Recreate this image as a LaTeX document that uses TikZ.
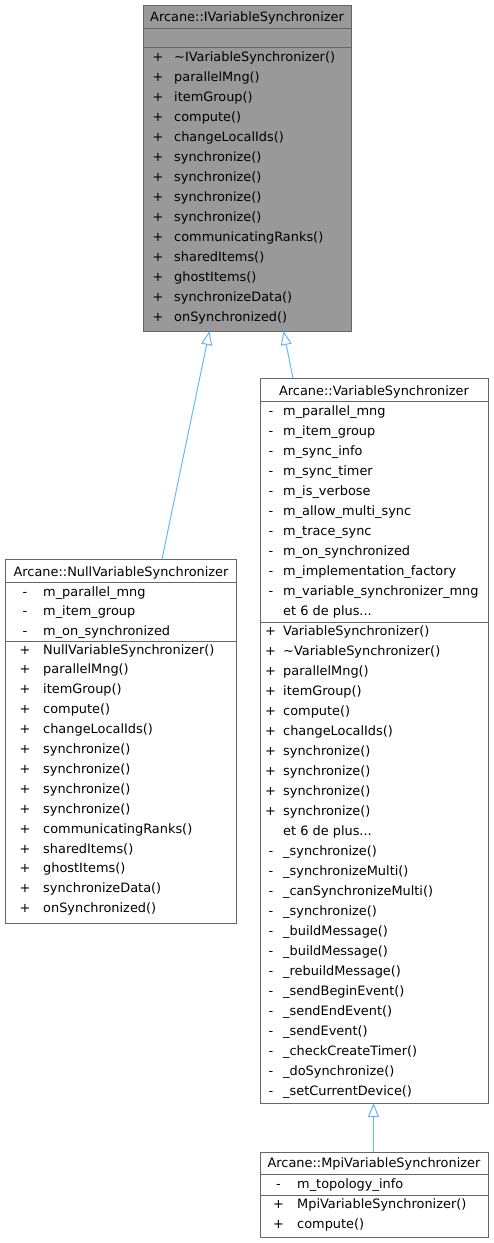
\documentclass[tikz,border=0pt]{standalone}
\usepackage{fontspec}
\setmainfont{DejaVu Sans}
\usetikzlibrary{arrows.meta}
\definecolor{edgeblue}{HTML}{63B8FF}
\definecolor{boxline}{HTML}{666666}
\definecolor{hlfill}{HTML}{999999}
\tikzset{
  cls/.style={draw=boxline, line width=1pt, fill=white, inner sep=0pt, outer sep=0pt, anchor=north west},
  hl/.style={cls, fill=hlfill},
  txt/.style={anchor=base west, inner sep=0pt, font=\fontsize{12.9}{15}\selectfont},
  vis/.style={anchor=base, inner sep=0pt, font=\fontsize{12.9}{15}\selectfont},
  ttl/.style={anchor=base, inner sep=0pt, font=\fontsize{12.9}{15}\selectfont},
  sepline/.style={draw=boxline, line width=1pt},
  inh/.style={draw=edgeblue, line width=1pt, -{Triangle[open, length=14pt, width=11pt, fill=white]}}
}
\begin{document}
\begin{tikzpicture}[x=1pt, y=-1pt]
\useasboundingbox (0,0) rectangle (493,1243);

% ---------- IVariableSynchronizer ----------
\node[hl, minimum width=208pt, minimum height=326pt] (iface) at (143,5) {};
\draw[sepline] (143,28) -- (351,28);
\draw[sepline] (143,47) -- (351,47);
\node[ttl] (ifacet) at (247,21.5) {Arcane::IVariableSynchronizer};
\foreach \t [count=\i from 0] in {\textasciitilde IVariableSynchronizer(), parallelMng(), itemGroup(), compute(), changeLocalIds(), synchronize(), synchronize(), synchronize(), synchronize(), communicatingRanks(), sharedItems(), ghostItems(), synchronizeData(), onSynchronized()}{
  \node[vis] (ifv\i) at (158,{61.5+20*\i}) {+};
  \node[txt] (ifm\i) at (174,{61.5+20*\i}) {\t};
}

% ---------- NullVariableSynchronizer ----------
\node[cls, minimum width=231pt, minimum height=364pt] (null) at (5,559) {};
\draw[sepline] (5,582.5) -- (236,582.5);
\draw[sepline] (5,641) -- (236,641);
\node[ttl] (nullt) at (121,576) {Arcane::NullVariableSynchronizer};
\foreach \t [count=\i from 0] in {m\_parallel\_mng, m\_item\_group, m\_on\_synchronized}{
  \node[vis] (nav\i) at (25,{596+19.6*\i}) {-};
  \node[txt] (naa\i) at (43,{596+19.6*\i}) {\t};
}
\foreach \t [count=\i from 0] in {NullVariableSynchronizer(), parallelMng(), itemGroup(), compute(), changeLocalIds(), synchronize(), synchronize(), synchronize(), synchronize(), communicatingRanks(), sharedItems(), ghostItems(), synchronizeData(), onSynchronized()}{
  \node[vis] (nmv\i) at (25,{654+19.9*\i}) {+};
  \node[txt] (nmm\i) at (43,{654+19.9*\i}) {\t};
}

% ---------- VariableSynchronizer ----------
\node[cls, minimum width=228pt, minimum height=725pt] (var) at (260,378) {};
\draw[sepline] (260,401.5) -- (488,401.5);
\draw[sepline] (260,622.5) -- (488,622.5);
\node[ttl] (vart) at (374,395) {Arcane::VariableSynchronizer};
\foreach \t [count=\i from 0] in {m\_parallel\_mng, m\_item\_group, m\_sync\_info, m\_sync\_timer, m\_is\_verbose, m\_allow\_multi\_sync, m\_trace\_sync, m\_on\_synchronized, m\_implementation\_factory, m\_variable\_synchronizer\_mng}{
  \node[vis] (vav\i) at (271,{415.5+20*\i}) {-};
  \node[txt] (vaa\i) at (283,{415.5+20*\i}) {\t};
}
\node[txt] (vamore) at (283,615.5) {et 6 de plus...};
\foreach \t [count=\i from 0] in {VariableSynchronizer(), \textasciitilde VariableSynchronizer(), parallelMng(), itemGroup(), compute(), changeLocalIds(), synchronize(), synchronize(), synchronize(), synchronize()}{
  \node[vis] (vmv\i) at (270.5,{635.5+20*\i}) {+};
  \node[txt] (vmm\i) at (283,{635.5+20*\i}) {\t};
}
\node[txt] (vmmore) at (283,835.5) {et 6 de plus...};
\foreach \t [count=\i from 0] in {\_synchronize(), \_synchronizeMulti(), \_canSynchronizeMulti(), \_synchronize(), \_buildMessage(), \_buildMessage(), \_rebuildMessage(), \_sendBeginEvent(), \_sendEndEvent(), \_sendEvent(), \_checkCreateTimer(), \_doSynchronize(), \_setCurrentDevice()}{
  \node[vis] (vpv\i) at (271,{855.5+20*\i}) {-};
  \node[txt] (vpm\i) at (283,{855.5+20*\i}) {\t};
}

% ---------- MpiVariableSynchronizer ----------
\node[cls, minimum width=228pt, minimum height=85pt] (mpi) at (260,1152) {};
\draw[sepline] (260,1174) -- (488,1174);
\draw[sepline] (260,1195) -- (488,1195);
\node[ttl] (mpit) at (374,1167.5) {Arcane::MpiVariableSynchronizer};
\node[vis] (mav0) at (278.5,1188.5) {-};
\node[txt] (maa0) at (297,1188.5) {m\_topology\_info};
\node[vis] (mmv0) at (278.5,1208.5) {+};
\node[txt] (mmm0) at (297,1208.5) {MpiVariableSynchronizer()};
\node[vis] (mmv1) at (278.5,1228.5) {+};
\node[txt] (mmm1) at (297,1228.5) {compute()};

% ---------- inheritance edges ----------
\coordinate (nullstart) at (162,559);
\coordinate (ifaceL) at (209.5,331);
\coordinate (varstart) at (293,378);
\coordinate (ifaceR) at (283.5,331);
\coordinate (mpistart) at (373.5,1152);
\coordinate (varbot) at (373.5,1103);
\draw[inh] (nullstart) -- (ifaceL);
\draw[inh] (varstart) -- (ifaceR);
\draw[inh] (mpistart) -- (varbot);
\end{tikzpicture}
\end{document}
